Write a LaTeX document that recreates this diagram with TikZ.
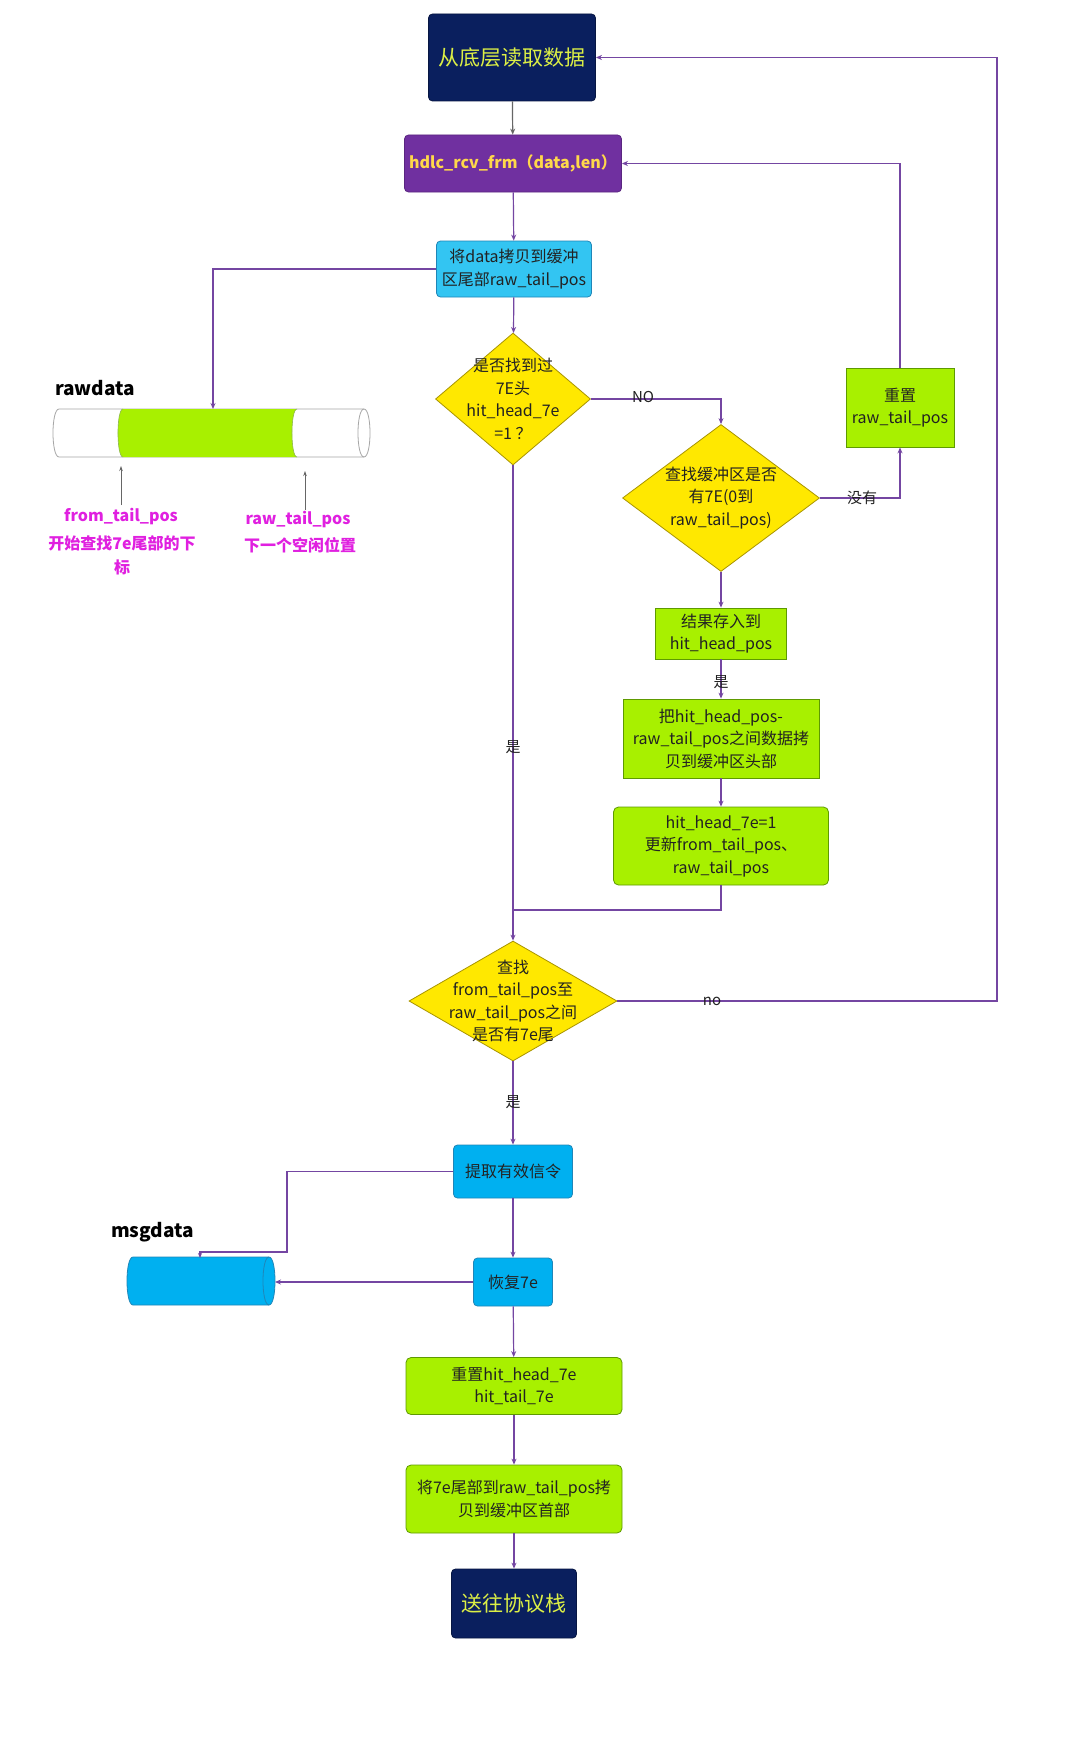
\documentclass[tikz,border=0pt]{standalone}
\usepackage{fontspec}
\setmainfont{Noto Sans CJK SC}
\usetikzlibrary{shapes.geometric,arrows.meta}
\definecolor{navy}{HTML}{0A1F5E}
\definecolor{topyel}{HTML}{DCEF45}
\definecolor{hdlcpur}{HTML}{7030A0}
\definecolor{hdlcyel}{HTML}{FFD84A}
\definecolor{sky}{HTML}{33C5F2}
\definecolor{skytwo}{HTML}{00B0F0}
\definecolor{skyedge}{HTML}{1F86B8}
\definecolor{lime}{HTML}{A8F000}
\definecolor{limeedge}{HTML}{5E9A00}
\definecolor{dyel}{HTML}{FFE800}
\definecolor{dyeledge}{HTML}{A89400}
\definecolor{conn}{HTML}{7446A2}
\definecolor{mag}{HTML}{E020E0}
\definecolor{txt}{HTML}{222222}
\begin{document}
\begin{tikzpicture}[x=1pt,y=-1pt,
  base/.style={inner sep=0pt, align=center, text=txt, font=\fontsize{16}{22.5}\selectfont},
  navybox/.style={base, fill=navy, draw=navy!70!black, line width=0.8pt, rounded corners=4pt, text=topyel, font=\fontsize{21}{26}\selectfont},
  purbox/.style={base, fill=hdlcpur, draw=hdlcpur!80!black, line width=0.8pt, rounded corners=4pt, text=hdlcyel, font=\fontsize{16}{22}\selectfont\bfseries},
  skybox/.style={base, fill=sky, draw=skyedge, line width=0.8pt, rounded corners=4pt},
  skytwobox/.style={base, fill=skytwo, draw=skyedge, line width=0.8pt, rounded corners=4pt},
  limebox/.style={base, fill=lime, draw=limeedge, line width=0.8pt},
  limeround/.style={limebox, rounded corners=5pt},
  dia/.style={diamond, inner sep=0pt, fill=dyel, draw=dyeledge, line width=0.8pt},
  dtext/.style={base},
  elabel/.style={inner sep=0pt, text=txt, font=\fontsize{15}{18}\selectfont},
  maglabel/.style={inner sep=0pt, text=mag, font=\fontsize{16}{20}\selectfont\bfseries},
  titlelabel/.style={inner sep=0pt, text=black, font=\fontsize{19}{22}\selectfont\bfseries},
  flow/.style={draw=conn, line width=1.2pt, -{Stealth[length=6pt,width=5pt]}},
  plain/.style={draw=conn, line width=1.2pt},
  grayarrow/.style={draw=gray!80!black, line width=0.7pt, -{Stealth[length=5pt,width=3.5pt]}},
]
\useasboundingbox (0,0) rectangle (1080,1742);
\fill[white] (0,0) rectangle (1080,1742);

% ---- main nodes
\node[navybox, minimum width=167pt, minimum height=87pt] (top) at (512,57.5) {从底层读取数据};
\node[purbox, minimum width=217pt, minimum height=57pt] (hdlc) at (513,163.5) {hdlc\_rcv\_frm（data,len）};
\node[skybox, minimum width=155pt, minimum height=56pt] (copy) at (514,269) {将data拷贝到缓冲\\区尾部raw\_tail\_pos};
\node[dia, minimum width=155pt, minimum height=132pt] (d1) at (513,399) {};
\node[dtext] at (d1) {是否找到过\\7E头\\hit\_head\_7e\\=1 ？};
\node[dia, minimum width=197pt, minimum height=147pt] (d2) at (721,498) {};
\node[dtext] at (d2) {查找缓冲区是否\\有7E(0到\\raw\_tail\_pos)};
\node[limebox, minimum width=108pt, minimum height=79pt] (reset) at (900,407.5) {重置\\raw\_tail\_pos};
\node[limebox, minimum width=131pt, minimum height=51pt] (res) at (721,633.5) {结果存入到\\hit\_head\_pos};
\node[limebox, minimum width=196pt, minimum height=79pt] (cp2) at (721,738.5) {把hit\_head\_pos-\\raw\_tail\_pos之间数据拷\\贝到缓冲区头部};
\node[limeround, minimum width=215pt, minimum height=78pt] (hit) at (721,846) {hit\_head\_7e=1\\更新from\_tail\_pos、\\raw\_tail\_pos};
\node[dia, minimum width=208pt, minimum height=120pt] (d3) at (513,1001) {};
\node[dtext] at (d3) {查找\\from\_tail\_pos至\\raw\_tail\_pos之间\\是否有7e尾};
\node[skytwobox, minimum width=119pt, minimum height=53pt] (ext) at (513,1171.5) {提取有效信令};
\node[skytwobox, minimum width=79pt, minimum height=48pt] (rest) at (513,1282) {恢复7e};
\node[limeround, minimum width=216pt, minimum height=57pt] (rst) at (514,1386) {重置hit\_head\_7e\\hit\_tail\_7e};
\node[limeround, minimum width=216pt, minimum height=68pt] (cp3) at (514,1499) {将7e尾部到raw\_tail\_pos拷\\贝到缓冲区首部};
\node[navybox, minimum width=125pt, minimum height=69pt] (send) at (514,1603.5) {送往协议栈};

% ---- rawdata cylinder
\node[titlelabel] (rawlbl) at (95,388) {rawdata};
\draw[draw=gray!70, fill=white, line width=0.8pt] (59,409) -- (364,409) .. controls (372,409) and (372,457) .. (364,457) -- (59,457) .. controls (51,457) and (51,409) .. (59,409) -- cycle;
\fill[lime] (123,409) -- (297,409) .. controls (290.3,409) and (290.3,457) .. (297,457) -- (123,457) .. controls (116.3,457) and (116.3,409) .. (123,409) -- cycle;
\draw[draw=limeedge!70, line width=0.6pt] (297,409) .. controls (290.3,409) and (290.3,457) .. (297,457);
\draw[draw=limeedge!70, line width=0.6pt] (123,409) .. controls (116.3,409) and (116.3,457) .. (123,457);
\draw[draw=gray!70, line width=0.8pt] (364,409) .. controls (356,409) and (356,457) .. (364,457);
\coordinate (rawin) at (213,409);
\coordinate (ftpend) at (121,466);
\coordinate (rtpend) at (305,471);
\node[maglabel] (ftp) at (121,517) {from\_tail\_pos};
\node[maglabel] (ftp2) at (122,543) {开始查找7e尾部的下};
\node[maglabel] (ftp3) at (122,567) {标};
\node[maglabel] (rtp) at (298,520) {raw\_tail\_pos};
\node[maglabel] (rtp2) at (300,545) {下一个空闲位置};
\draw[grayarrow] (121,505) -- (ftpend);
\draw[grayarrow] (305,510) -- (rtpend);

% ---- msgdata cylinder
\node[titlelabel] (msglbl) at (152.5,1232) {msgdata};
\draw[draw=skyedge, fill=skytwo, line width=0.8pt] (133,1257) -- (269,1257) .. controls (277,1257) and (277,1305) .. (269,1305) -- (133,1305) .. controls (125,1305) and (125,1257) .. (133,1257) -- cycle;
\draw[draw=skyedge, line width=0.8pt] (269,1257) .. controls (261,1257) and (261,1305) .. (269,1305);
\coordinate (msgin) at (200,1258);
\coordinate (msgcorner) at (287,1252);
\coordinate (msgside) at (275,1282);

% ---- connectors
\draw[flow, draw=gray!80!black] (top) -- (hdlc);
\draw[flow] (hdlc) -- (copy);
\draw[flow] (copy) -- (d1);
\draw[flow] (copy.west) -| (rawin);
\draw[flow] (d1.east) -| (d2.north);
\draw[flow] (d2.east) -| (reset.south);
\draw[flow] (reset.north) |- (hdlc.east);
\draw[flow] (d2.south) -- (res.north);
\draw[flow] (res) -- (cp2);
\draw[flow] (cp2) -- (hit);
\coordinate (join) at (513,910);
\draw[plain] (hit.south) |- (join);
\draw[flow] (d1.south) -- (d3.north);
\coordinate (outer) at (997,1001);
\draw[flow] (d3.east) -- (outer) |- (top.east);
\draw[flow] (d3.south) -- (ext.north);
\draw[flow, -{Stealth[length=5pt,width=4pt]}] (ext.west) -| (msgcorner) -- (200,1252) -- (msgin);
\draw[flow] (ext) -- (rest);
\draw[flow] (rest.west) -- (msgside);
\draw[flow] (rest) -- (rst);
\draw[flow] (rst) -- (cp3);
\draw[flow] (cp3) -- (send);

% ---- edge labels
\node[elabel] (lno) at (643,397) {NO};
\node[elabel] (lmy) at (862,498) {没有};
\node[elabel] (lyes1) at (721,682) {是};
\node[elabel] (lyes2) at (513,747) {是};
\node[elabel] (lno2) at (712,1001) {no};
\node[elabel] (lyes3) at (513,1102) {是};
\end{tikzpicture}
\end{document}
